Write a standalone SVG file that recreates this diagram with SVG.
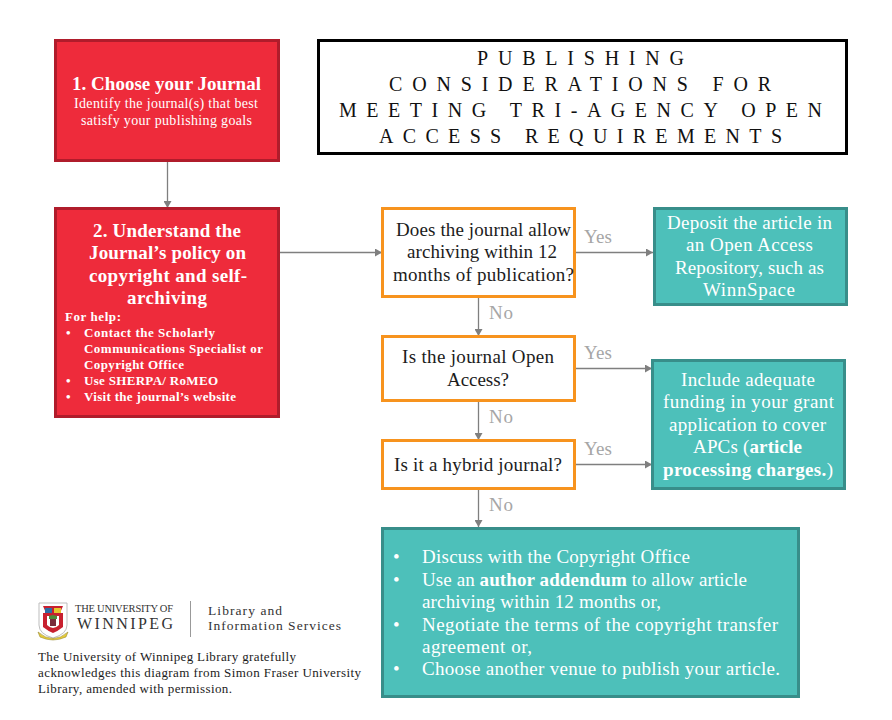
<svg xmlns="http://www.w3.org/2000/svg" width="892" height="720" viewBox="0 0 892 720">
<style>
text{font-family:"Liberation Serif","DejaVu Serif",serif;}
.red{fill:#EE2B3B;stroke:#B01C2B;stroke-width:3;}
.teal{fill:#4DC0BA;stroke:#388E8A;stroke-width:3;}
.q{fill:#fff;stroke:#F7931E;stroke-width:3;}
.w{fill:#fff;}
.k{fill:#1c1c1c;}
.lb{fill:#A6A6A6;font-size:19px;}
.s18{font-size:19px;}
.s19{font-size:19px;font-weight:bold;}
.s13{font-size:14px;}
.hp{font-size:13px;font-weight:bold;fill:#fff;}
.t{font-size:20px;fill:#111;}
.c{fill:none;stroke:#7F7F7F;stroke-width:1.3;marker-end:url(#a);}
.f{font-size:13px;fill:#1c1c1c;}
</style>
<defs>
<marker id="a" markerUnits="userSpaceOnUse" markerWidth="8" markerHeight="8" refX="7" refY="4" orient="auto"><path d="M0 0L7 4L0 8z" fill="#7F7F7F"/></marker>
</defs>
<rect width="892" height="720" fill="#fff"/>

<g id="connectors">
<path class="c" d="M167.500 161V208"/>
<path class="c" d="M279 252.500H382"/>
<path class="c" d="M575 252.500H653"/>
<path class="c" d="M478.500 297V336"/>
<path class="c" d="M575 368.500H652"/>
<path class="c" d="M478.500 401V440"/>
<path class="c" d="M575 464.500H652"/>
<path class="c" d="M478.500 489V527"/>
<text class="lb" x="584" y="243" textLength="28">Yes</text>
<text class="lb" x="489" y="319" textLength="24">No</text>
<text class="lb" x="584" y="359" textLength="28">Yes</text>
<text class="lb" x="489" y="423" textLength="24">No</text>
<text class="lb" x="584" y="455" textLength="28">Yes</text>
<text class="lb" x="489" y="511" textLength="24">No</text>
</g>

<g id="node-1">
<rect class="red" x="55.500" y="40.500" width="223" height="120"/>
<text class="w s19" x="72" y="90" textLength="189">1. Choose your Journal</text>
<text class="w s13" x="74" y="108" textLength="184">Identify the journal(s) that best</text>
<text class="w s13" x="81" y="125" textLength="171">satisfy your publishing goals</text>
</g>

<g id="node-2">
<rect class="red" x="55.500" y="208.500" width="223" height="208"/>
<text class="w s19" x="93" y="237" textLength="148">2. Understand the</text>
<text class="w s19" x="89" y="259" textLength="157">Journal’s policy on</text>
<text class="w s19" x="89" y="282" textLength="158">copyright and self-</text>
<text class="w s19" x="127" y="304" textLength="80">archiving</text>
<text class="hp" x="65" y="321" textLength="56">For help:</text>
<text class="hp" x="66" y="337">•</text>
<text class="hp" x="84" y="337" textLength="131">Contact the Scholarly</text>
<text class="hp" x="84" y="353" textLength="179">Communications Specialist or</text>
<text class="hp" x="84" y="369" textLength="100">Copyright Office</text>
<text class="hp" x="66" y="385">•</text>
<text class="hp" x="84" y="385" textLength="134">Use SHERPA/ RoMEO</text>
<text class="hp" x="66" y="401">•</text>
<text class="hp" x="84" y="401" textLength="152">Visit the journal’s website</text>
</g>

<g id="title">
<rect x="318.500" y="40.500" width="528" height="113" fill="#fff" stroke="#000" stroke-width="3"/>
<text class="t" x="477" y="65" textLength="207">PUBLISHING</text>
<text class="t" x="389" y="91" textLength="382">CONSIDERATIONS FOR</text>
<text class="t" x="339" y="117" textLength="483">MEETING TRI-AGENCY OPEN</text>
<text class="t" x="379" y="143" textLength="403">ACCESS REQUIREMENTS</text>
</g>

<g id="q1">
<rect class="q" x="382.500" y="208.500" width="192" height="88"/>
<text class="k s18" x="396" y="236" textLength="175">Does the journal allow</text>
<text class="k s18" x="407" y="258" textLength="150">archiving within 12</text>
<text class="k s18" x="393" y="281" textLength="181">months of publication?</text>
</g>
<g id="q2">
<rect class="q" x="382.500" y="336.500" width="192" height="64"/>
<text class="k s18" x="402" y="363" textLength="152">Is the journal Open</text>
<text class="k s18" x="447" y="386" textLength="62">Access?</text>
</g>
<g id="q3">
<rect class="q" x="382.500" y="440.500" width="192" height="48"/>
<text class="k s18" x="394" y="471" textLength="168">Is it a hybrid journal?</text>
</g>

<g id="deposit">
<rect class="teal" x="654.500" y="208.500" width="192" height="96"/>
<text class="w s18" x="667" y="229" textLength="165">Deposit the article in</text>
<text class="w s18" x="686" y="251" textLength="127">an Open Access</text>
<text class="w s18" x="675" y="274" textLength="149">Repository, such as</text>
<text class="w s18" x="703" y="296" textLength="92">WinnSpace</text>
</g>

<g id="funding">
<rect class="teal" x="652.500" y="360.500" width="192" height="128"/>
<text class="w s18" x="681" y="386" textLength="134">Include adequate</text>
<text class="w s18" x="663" y="408" textLength="171">funding in your grant</text>
<text class="w s18" x="669" y="431" textLength="157">application to cover</text>
<text class="w s18" x="693" y="453" textLength="109">APCs (<tspan font-weight="bold">article</tspan></text>
<text class="w s18" x="663" y="476" textLength="170"><tspan font-weight="bold">processing charges.</tspan>)</text>
</g>

<g id="options">
<rect class="teal" x="382.500" y="528.500" width="416" height="168"/>
<text class="w s18" x="393" y="563">•</text>
<text class="w s18" x="422" y="563" textLength="268">Discuss with the Copyright Office</text>
<text class="w s18" x="393" y="586">•</text>
<text class="w s18" x="422" y="586" textLength="325">Use an <tspan font-weight="bold">author addendum</tspan> to allow article</text>
<text class="w s18" x="422" y="608" textLength="239">archiving within 12 months or,</text>
<text class="w s18" x="393" y="631">•</text>
<text class="w s18" x="422" y="631" textLength="356">Negotiate the terms of the copyright transfer</text>
<text class="w s18" x="422" y="653" textLength="110">agreement or,</text>
<text class="w s18" x="393" y="675">•</text>
<text class="w s18" x="422" y="675" textLength="358">Choose another venue to publish your article.</text>
</g>

<g id="logo">
<path d="M39 603H67V625Q67 634 53 638Q39 634 39 625Z" fill="#fff" stroke="#BDBDBD" stroke-width="1"/>
<path d="M43 606H63L60 613H63V627Q58 631 53 633Q48 631 43 627V613H46Z" fill="#C8202F"/>
<rect x="45" y="608" width="7" height="5" fill="#2E6DA4"/>
<rect x="54" y="608" width="7" height="5" fill="#E5C62E"/>
<path d="M47 616H59V625Q53 631 47 625Z" fill="#fff"/>
<path d="M50 619h6v7h-6z" fill="#7A2B3B"/>
<path d="M49 616l4-1 4 1v3h-8z" fill="#4E8B3A"/>
<path d="M38 632Q53 645 68 632L66 637Q53 643 40 637Z" fill="#E3C93A" stroke="#8a7a20" stroke-width=".5"/>
<text x="75" y="612" font-size="10.500" fill="#333" textLength="98">THE UNIVERSITY OF</text>
<text x="77" y="628.500" font-size="16" fill="#333" textLength="96">WINNIPEG</text>
<path d="M190.500 601V637" stroke="#999" stroke-width="1" fill="none"/>
<text x="208" y="614.500" font-size="13.500" fill="#333" textLength="74">Library and</text>
<text x="208" y="629.500" font-size="13.500" fill="#333" textLength="133">Information Services</text>
</g>

<g id="acknowledgement">
<text class="f" x="38" y="661" textLength="258">The University of Winnipeg Library gratefully</text>
<text class="f" x="38" y="677" textLength="323">acknowledges this diagram from Simon Fraser University</text>
<text class="f" x="38" y="693" textLength="194">Library, amended with permission.</text>
</g>
</svg>
